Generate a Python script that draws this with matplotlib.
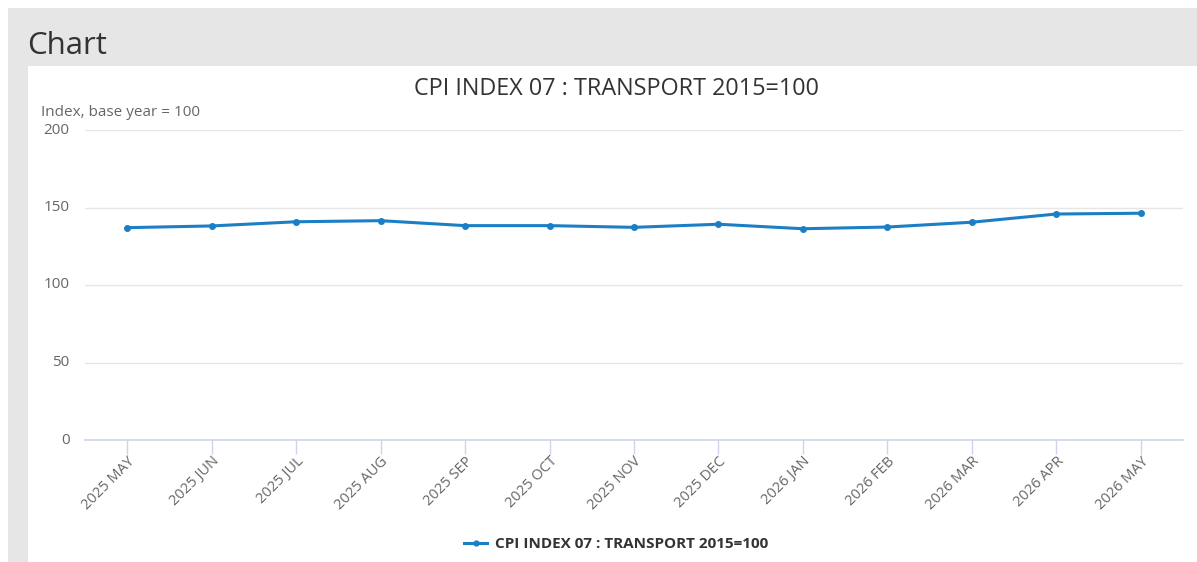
import matplotlib
matplotlib.use("Agg")
import matplotlib.pyplot as plt
from matplotlib.patches import Rectangle
from matplotlib.lines import Line2D

categories = ["2025 MAY", "2025 JUN", "2025 JUL", "2025 AUG", "2025 SEP", "2025 OCT",
              "2025 NOV", "2025 DEC", "2026 JAN", "2026 FEB", "2026 MAR", "2026 APR", "2026 MAY"]
values = [137.0, 138.1, 140.8, 141.5, 138.3, 138.3, 137.2, 139.2, 136.3, 137.4, 140.5, 145.8, 146.3]
y_ticks = [0, 50, 100, 150, 200]
series_name = "CPI INDEX 07 : TRANSPORT 2015=100"
title = "CPI INDEX 07 : TRANSPORT 2015=100"
y_label = "Index, base year = 100"

W, H = 1197, 562
plt.rcParams['font.family'] = ['Open Sans', 'DejaVu Sans']
fig = plt.figure(figsize=(W / 100, H / 100), dpi=100, facecolor='white')

def fx(px):
    return px / W

def fy(py):
    return 1 - py / H

# gray frame and white panel
fig.patches.append(Rectangle((fx(8), 0), 1 - fx(8), fy(8), transform=fig.transFigure,
                             facecolor='#e6e6e6', edgecolor='none', zorder=-10))
fig.patches.append(Rectangle((fx(28), 0), 1 - fx(28), fy(66), transform=fig.transFigure,
                             facecolor='white', edgecolor='none', zorder=-9))

fig.text(fx(27), fy(46), "Chart", fontsize=22.5, color='#333333', va='center', ha='left')
fig.text(fx(616), fy(89), title, fontsize=16.8, color='#333333', va='center', ha='center')
fig.text(fx(41), fy(112), y_label, fontsize=11, color='#666666', va='center', ha='left')

ax = fig.add_axes([fx(85), fy(440), fx(1183) - fx(85), fy(130) - fy(440)])
ax.set_facecolor('none')
x = list(range(len(categories)))
line, = ax.plot(x, values, color='#1c7ec4', lw=2.2, marker='o', markersize=4, zorder=3)
ax.set_xlim(-0.5, len(categories) - 0.5)
ax.set_ylim(0, 200)
ax.set_yticks(y_ticks)
ax.set_yticklabels([str(v) for v in y_ticks])
ax.grid(axis='y', color='#e6e6e6', lw=1)
ax.set_axisbelow(True)
for s in ['top', 'right', 'left']:
    ax.spines[s].set_visible(False)
ax.spines['bottom'].set_color('#ccd6eb')
ax.spines['bottom'].set_linewidth(1.2)
ax.tick_params(axis='y', length=0, labelsize=11, labelcolor='#666666', pad=11)
ax.tick_params(axis='x', length=10, color='#ccd6eb', width=1, labelsize=10.5, labelcolor='#666666', pad=0)
ax.set_xticks(x)
ax.set_xticklabels(categories, rotation=45, ha='right', rotation_mode='anchor')
for lbl in ax.get_yticklabels():
    lbl.set_verticalalignment('center')

handle = Line2D([0], [0], color='#1c7ec4', lw=2.2, marker='o', markersize=3.5)
fig.legend([handle], [series_name], loc='center', bbox_to_anchor=(fx(616), fy(544)),
           frameon=False, prop={'weight': 'bold', 'size': 11}, labelcolor='#333333',
           handlelength=1.5, handletextpad=0.5)

fig.savefig("out.png", dpi=100, facecolor='white')
